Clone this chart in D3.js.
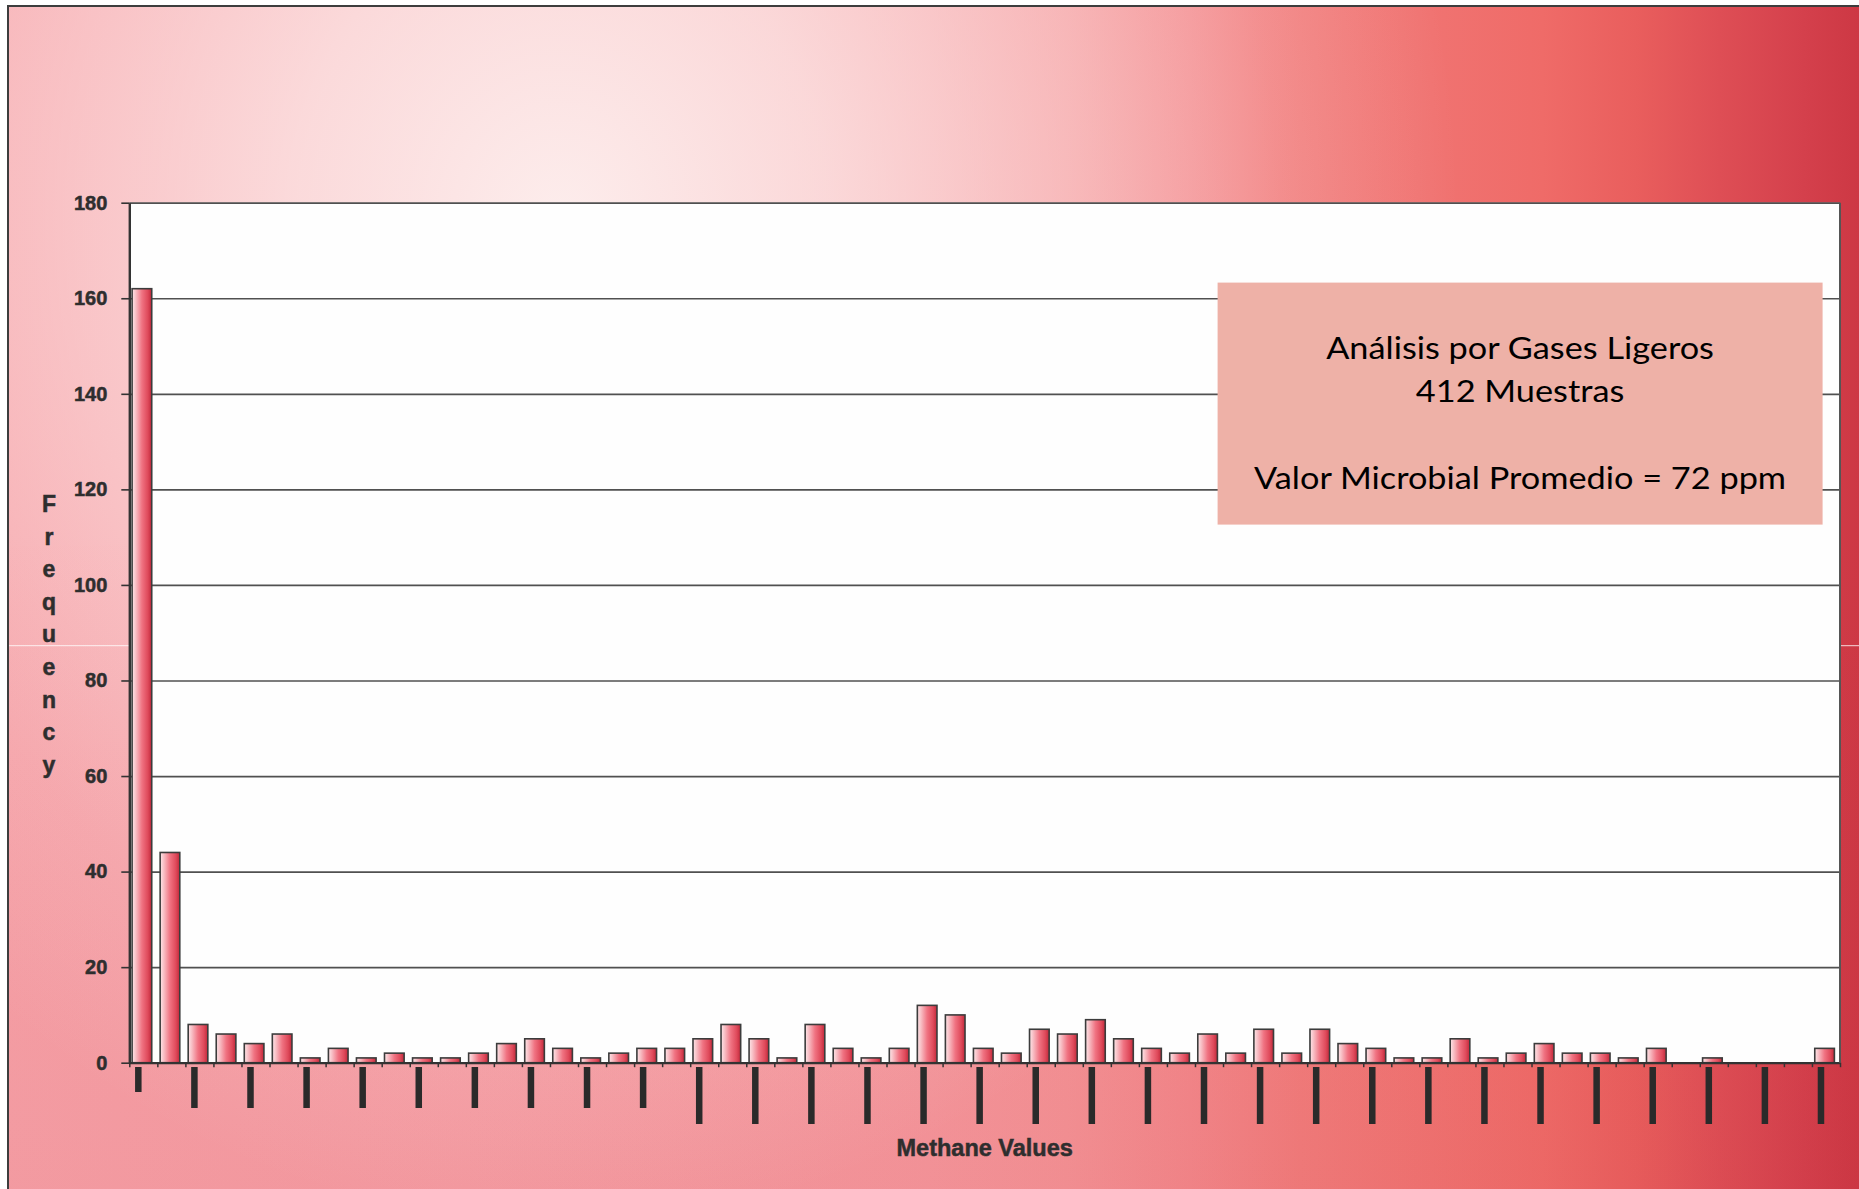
<!DOCTYPE html>
<html>
<head>
<meta charset="utf-8">
<script src="https://cdn.jsdelivr.net/npm/d3@7"></script>
<style>
    body { margin: 0; background: #fff; }
    #chart svg { display: block; }
    .axis text { font-family: "Liberation Sans", Arial, sans-serif; font-weight: bold; font-size: 20px; fill: #2e2e2e; stroke: #2e2e2e; stroke-width: 0.5px; }
</style>
</head>
<body>
<div id="chart"></div>
<script>

// Histogram counts, one per methane bin (412 samples in total)
const frequencies = [162, 44, 8, 6, 4, 6, 1, 3, 1, 2,
                     1, 1, 2, 4, 5, 3, 1, 2, 3, 3,
                     5, 8, 5, 1, 8, 3, 1, 3, 12, 10,
                     3, 2, 7, 6, 9, 5, 3, 2, 6, 2,
                     7, 2, 7, 4, 3, 1, 1, 5, 1, 2,
                     4, 2, 2, 1, 3, 0, 1, 0, 0, 0,
                     3];

const yTicks = [0, 20, 40, 60, 80, 100, 120, 140, 160, 180];

// x labels sit under every second bin; they are unreadable in the source, drawn as dark strokes
const xTickLabels = ["0", "10", "20", "30", "40", "50", "60", "70", "80", "90",
                     "100", "110", "120", "130", "140", "150", "160", "170", "180", "190",
                     "200", "210", "220", "230", "240", "250", "260", "270", "280", "290",
                     "300"];

const noteLines = ["Análisis por Gases Ligeros", "412 Muestras", "", "Valor Microbial Promedio = 72 ppm"];
const yTitle = "Frequency";
const xTitle = "Methane Values";


class MethaneHistogram {

    constructor(_parentElement, _data) {
        this.parentElement = _parentElement;
        this.data = _data;

        this.initVis();
    }

    initVis() {
        let vis = this;

        vis.margin = { top: 202.7, right: 19, bottom: 126.3, left: 129.3 };

        vis.width = 1859 - vis.margin.left - vis.margin.right,
            vis.height = 1189 - vis.margin.top - vis.margin.bottom;

        vis.root = d3.select("#" + vis.parentElement).append("svg")
            .attr("width", 1859)
            .attr("height", 1189);

        let defs = vis.root.append("defs");

        // slide background: pink on the left turning red on the right ...
        let base = defs.append("linearGradient")
            .attr("id", "bgBase")
            .attr("gradientUnits", "userSpaceOnUse")
            .attr("x1", 0).attr("x2", 1859).attr("y1", 0).attr("y2", 0);
        [[0, "#f6a0a6"], [0.25, "#f69ca2"], [0.5, "#f5969b"], [0.574, "#f49295"], [0.64, "#f3878a"],
         [0.70, "#f17c7b"], [0.77, "#f07371"], [0.83, "#ef6b68"], [0.88, "#e95e5d"],
         [0.925, "#de4e55"], [0.97, "#d4404c"], [1, "#cd3844"]].forEach(s => {
            base.append("stop").attr("offset", s[0]).attr("stop-color", s[1]);
        });

        // ... with a soft light patch up and left of centre
        let glow = defs.append("radialGradient")
            .attr("id", "bgGlow")
            .attr("gradientUnits", "userSpaceOnUse")
            .attr("cx", 560).attr("cy", 220).attr("r", 900)
            .attr("gradientTransform", "translate(560,220) scale(1,1.12) translate(-560,-220)");
        [[0, 0.95], [0.3, 0.72], [0.6, 0.38], [0.8, 0.14], [1, 0]].forEach(s => {
            glow.append("stop").attr("offset", s[0])
                .attr("stop-color", "#fdf1f0").attr("stop-opacity", s[1]);
        });

        let shade = defs.append("linearGradient")
            .attr("id", "bgShade")
            .attr("gradientUnits", "userSpaceOnUse")
            .attr("x1", 0).attr("x2", 0).attr("y1", 500).attr("y2", 1189);
        shade.append("stop").attr("offset", 0).attr("stop-color", "#a01428").attr("stop-opacity", 0);
        shade.append("stop").attr("offset", 1).attr("stop-color", "#a01428").attr("stop-opacity", 0.04);

        let bar = defs.append("linearGradient")
            .attr("id", "barGrad")
            .attr("x1", 0).attr("x2", 1).attr("y1", 0).attr("y2", 0);
        [[0, "#fde6e9"], [0.18, "#f8c0c6"], [0.5, "#f07382"], [0.8, "#df4a5b"], [1, "#c0283a"]]
            .forEach(s => {
                bar.append("stop").attr("offset", s[0]).attr("stop-color", s[1]);
            });

        ["url(#bgBase)", "url(#bgGlow)", "url(#bgShade)"].forEach(f => {
            vis.root.append("rect")
                .attr("x", 8).attr("y", 6)
                .attr("width", 1870).attr("height", 1200)
                .attr("fill", f);
        });
        vis.root.append("rect")
            .attr("x", 8).attr("y", 6)
            .attr("width", 1870).attr("height", 1200)
            .attr("fill", "none")
            .attr("stroke", "#3d3d3d")
            .attr("stroke-width", 2);

        // faint seam that runs across the source image
        vis.root.append("line")
            .attr("x1", 9).attr("x2", 152).attr("y1", 645.7).attr("y2", 645.7)
            .attr("stroke", "rgba(255,255,255,0.8)").attr("stroke-width", 1);
        vis.root.append("line")
            .attr("x1", 1841).attr("x2", 1859).attr("y1", 645.7).attr("y2", 645.7)
            .attr("stroke", "rgba(255,255,255,0.8)").attr("stroke-width", 1);

        vis.svg = vis.root.append("g")
            .attr("transform", "translate(" + vis.margin.left + "," + vis.margin.top + ")");

        vis.svg.append("rect")
            .attr("width", vis.width)
            .attr("height", vis.height)
            .attr("fill", "#fefefe");

        // Scales and axes
        vis.x = d3.scaleBand()
            .domain(vis.data.map((d, i) => i))
            .range([0, vis.width])
            .padding(0);

        vis.xEdge = d3.scaleLinear()
            .domain([0, vis.data.length])
            .range([0, vis.width]);

        vis.y = d3.scaleLinear()
            .domain([0, 180])
            .range([vis.height, 0]);

        vis.gridAxis = d3.axisLeft(vis.y)
            .tickValues(yTicks)
            .tickSize(-vis.width)
            .tickFormat("");

        vis.yAxis = d3.axisLeft(vis.y)
            .tickValues(yTicks)
            .tickSize(8)
            .tickSizeOuter(0)
            .tickPadding(14);

        vis.xAxis = d3.axisBottom(vis.xEdge)
            .tickValues(d3.range(vis.data.length + 1))
            .tickSize(4.5)
            .tickSizeOuter(0)
            .tickFormat("");

        vis.svg.append("g").attr("class", "grid");
        vis.svg.append("g").attr("class", "bars");
        vis.svg.append("g")
            .attr("class", "x-axis axis")
            .attr("transform", "translate(0," + vis.height + ")");
        vis.svg.append("g").attr("class", "y-axis axis");
        vis.svg.append("g").attr("class", "x-labels");

        vis.wrangleData();
    }

    wrangleData() {
        let vis = this;

        vis.displayData = vis.data.map((d, i) => ({ bin: i, count: d }));
        vis.labelData = xTickLabels.map((d, j) => ({ bin: j * 2, label: d }));

        vis.updateVis();
    }

    updateVis() {
        let vis = this;
        let bw = vis.x.bandwidth();

        vis.svg.select(".grid").call(vis.gridAxis)
            .call(g => g.select(".domain").remove())
            .selectAll("line")
            .attr("stroke", "#505050")
            .attr("stroke-width", 1.7);

        vis.svg.select(".bars").selectAll("rect")
            .data(vis.displayData)
            .join("rect")
            .attr("x", d => vis.x(d.bin) + bw * 0.1)
            .attr("width", bw * 0.7)
            .attr("y", d => vis.y(d.count))
            .attr("height", d => vis.height - vis.y(d.count))
            .attr("fill", "url(#barGrad)")
            .attr("stroke", d => d.count > 0 ? "#3c3c3c" : "none")
            .attr("stroke-width", 1.6);

        vis.svg.select(".x-axis").call(vis.xAxis)
            .call(g => g.selectAll("line").attr("stroke", "#333").attr("stroke-width", 1.5))
            .call(g => g.select(".domain").attr("stroke", "#333").attr("stroke-width", 2.2));

        vis.svg.select(".y-axis").call(vis.yAxis)
            .call(g => g.selectAll("line").attr("stroke", "#333").attr("stroke-width", 1.6))
            .call(g => g.select(".domain").attr("stroke", "#333").attr("stroke-width", 2.4));

        // right edge of the plot area
        vis.svg.append("line")
            .attr("x1", vis.width).attr("x2", vis.width)
            .attr("y1", 0).attr("y2", vis.height)
            .attr("stroke", "#555")
            .attr("stroke-width", 2);

        // blurred rotated bin labels: one dark stroke per label, longer for longer labels
        vis.svg.select(".x-labels").selectAll("rect")
            .data(vis.labelData)
            .join("rect")
            .attr("x", d => vis.x(d.bin) + bw / 2 - 5 - 3.25)
            .attr("y", vis.height + 4.3)
            .attr("width", 6.5)
            .attr("height", d => 9 + 16 * d.label.length)
            .attr("fill", "#2a2a2a");

        // axis titles
        vis.root.append("g")
            .selectAll("text")
            .data(yTitle.split(""))
            .join("text")
            .attr("x", 49)
            .attr("y", (d, i) => 512 + 32.6 * i)
            .attr("text-anchor", "middle")
            .style("font-family", "'Liberation Sans', Arial, sans-serif")
            .style("font-weight", "bold")
            .style("font-size", "23px")
            .style("fill", "#2e2e2e")
            .style("stroke", "#2e2e2e")
            .style("stroke-width", "0.5px")
            .text(d => d);

        vis.root.append("text")
            .attr("x", vis.margin.left + vis.width / 2)
            .attr("y", 1156)
            .attr("text-anchor", "middle")
            .style("font-family", "'Liberation Sans', Arial, sans-serif")
            .style("font-weight", "bold")
            .style("font-size", "23.5px")
            .style("fill", "#2e2e2e")
            .style("stroke", "#2e2e2e")
            .style("stroke-width", "0.5px")
            .text(xTitle);

        // note box
        let box = { x: 1217.6, y: 282.6, w: 605, h: 242 };
        vis.root.append("rect")
            .attr("x", box.x).attr("y", box.y)
            .attr("width", box.w).attr("height", box.h)
            .attr("fill", "#eeb1a7");

        let note = vis.root.append("g");
        note.selectAll("text")
            .data(noteLines)
            .join("text")
            .attr("x", 0)
            .attr("y", (d, i) => 359 + 43.3 * i)
            .attr("text-anchor", "middle")
            .style("font-family", "Lato, 'Open Sans', sans-serif")
            .style("font-size", "30px")
            .style("fill", "#000")
            .text(d => d);

        let widest = d3.max(note.selectAll("text").nodes(), n => n.getComputedTextLength());
        let sx = 532 / widest;
        note.attr("transform", "translate(" + (box.x + box.w / 2) + ",0) scale(" + sx + ",1)");
    }
}

new MethaneHistogram("chart", frequencies);

</script>
</body>
</html>
